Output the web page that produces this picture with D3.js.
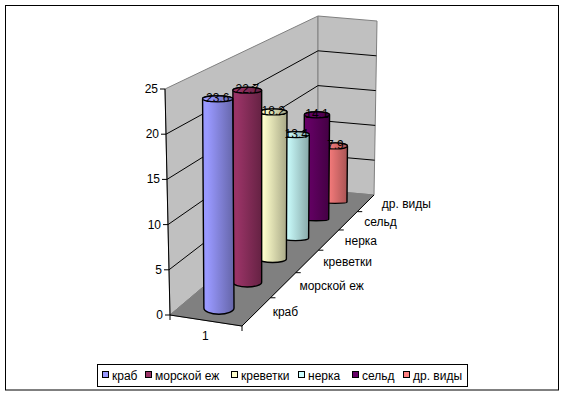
<!DOCTYPE html>
<html><head><meta charset="utf-8">
<script src="https://cdn.jsdelivr.net/npm/d3@7"></script>
<style>html,body{margin:0;padding:0;background:#fff}svg{display:block}text{font-family:"Liberation Sans",Arial,sans-serif;font-size:12px;fill:#000}</style>
</head><body><svg id="c" width="565" height="396"></svg>
<script>
const categories = ["краб","морской еж","креветки","нерка","сельд","др. виды"];
const values = [23.6,22.7,18.2,13.4,14.1,7.9];
const colors = ["#9999FF","#993366","#FFFFCC","#CCFFFF","#660066","#FF8080"];
const yTicks = [0,5,10,15,20,25];
const xLabels = ["1"];
const floorQuad = [[170,315],[242,326],[374,195],[318,190]];
const ceilQuad  = [[165,89],[243,99],[377,21],[318,16]];
const legendX = [102,145,231,298,352,403];

const svg = d3.select("#c");
function homography(q){
  const [[x0,y0],[x1,y1],[x2,y2],[x3,y3]] = q;
  const dx1=x1-x2,dx2=x3-x2,dx3=x0-x1+x2-x3,dy1=y1-y2,dy2=y3-y2,dy3=y0-y1+y2-y3;
  const det=dx1*dy2-dx2*dy1;
  const g=(dx3*dy2-dx2*dy3)/det,h=(dx1*dy3-dx3*dy1)/det;
  const a=x1-x0+g*x1,b=x3-x0+h*x3,d=y1-y0+g*y1,e=y3-y0+h*y3;
  return (u,v)=>{const w=g*u+h*v+1;return [(a*u+b*v+x0)/w,(d*u+e*v+y0)/w];};
}
const floorH=homography(floorQuad), ceilH=homography(ceilQuad);
const yScale=d3.scaleLinear().domain([0,25]).range([0,1]);
const depth=d3.scaleBand().domain(categories).range([0,1]);
const barDepth=d3.scaleBand().domain(categories).range([-0.01,0.98]);
const across=d3.scaleBand().domain(xLabels).range([0,1]);
function P(u,d,val){
  const f=floorH(u,d),c=ceilH(u,d),t=yScale(val);
  return [f[0]+(c[0]-f[0])*t,f[1]+(c[1]-f[1])*t];
}
const line=d3.line();
const defs=svg.append("defs");

svg.append("rect").attr("x",5.5).attr("y",5.5).attr("width",553).attr("height",384.5).attr("fill","#fff").attr("stroke","#000");

// walls
const wall=(pts,fill,stroke)=>svg.append("path").attr("d",line(pts)+"Z").attr("fill",fill).attr("stroke",stroke).attr("stroke-width",1);
wall([P(0,0,0),P(0,0,25),P(0,1,25),P(0,1,0)],"#C0C0C0","#808080");
wall([P(0,1,0),P(0,1,25),P(1,1,25),P(1,1,0)],"#C0C0C0","#808080");
wall([P(0,0,0),P(1,0,0),P(1,1,0),P(0,1,0)],"#808080","#808080");

// gridlines
yTicks.filter(v=>v>0&&v<25).forEach(v=>{
  svg.append("path").attr("d",line([P(0,0,v),P(0,1,v),P(1,1,v)])).attr("fill","none").attr("stroke","#000");
});

// axes
svg.append("path").attr("d",line([P(0,0,0),P(0,0,25)])).attr("stroke","#000").attr("fill","none");
yTicks.forEach(v=>{
  const p=P(0,0,v);
  svg.append("path").attr("d",line([p,[p[0]-5,p[1]]])).attr("stroke","#000");
  svg.append("text").attr("x",p[0]-7).attr("y",p[1]+4).attr("text-anchor","end").text(v);
});
svg.append("path").attr("d",line([P(0,0,0),P(1,0,0),P(1,1,0)])).attr("stroke","#000").attr("fill","none");
[0,1].forEach(u=>{const p=P(u,0,0);svg.append("path").attr("d",line([p,[p[0],p[1]+5]])).attr("stroke","#000");});
const xp=P(across("1")+across.bandwidth()/2,0,0);
svg.append("text").attr("x",xp[0]).attr("y",xp[1]+20).attr("text-anchor","middle").text(xLabels[0]);
depth.domain().forEach((c,i)=>{
  const p=P(1,depth(c),0);
  if(i>0) svg.append("path").attr("d",line([p,[p[0]+5,p[1]]])).attr("stroke","#000");
  const m=P(1,depth(c)+depth.bandwidth()/2,0);
  svg.append("text").attr("x",m[0]+16).attr("y",m[1]+5).text(c);
});

// cylinders, back to front
const order=d3.range(categories.length).reverse();
order.forEach(i=>{
  const d=barDepth(categories[i])+barDepth.bandwidth()/2;
  const b=P(.5,d,0),t=P(.5,d,values[i]);
  const full=P(.5,d,25);
  const r=(b[1]-full[1])*0.068;
  const ryB=Math.max(1,(b[1]-196)*0.055), ryT=3;
  const id="g"+i, c=d3.color(colors[i]);
  const dark=d3.rgb(c.r*.66,c.g*.66,c.b*.66);
  const g=defs.append("linearGradient").attr("id",id);
  g.append("stop").attr("offset","0").attr("stop-color",c.formatHex());
  g.append("stop").attr("offset","0.15").attr("stop-color",c.formatHex());
  g.append("stop").attr("offset","1").attr("stop-color",dark.formatHex());
  const x0=b[0]-r,x1=b[0]+r,tx=t[0],x0t=tx-r,x1t=tx+r;
  svg.append("path")
    .attr("d",`M${x0t},${t[1]}L${x0},${b[1]}A${r},${ryB} 0 0 0 ${x1},${b[1]}L${x1t},${t[1]}A${r},${ryT} 0 0 0 ${x0t},${t[1]}Z`)
    .attr("fill",`url(#${id})`).attr("stroke","#000").attr("stroke-width",1.4);
  svg.append("ellipse").attr("cx",tx).attr("cy",t[1]).attr("rx",r).attr("ry",ryT)
    .attr("fill",`url(#${id})`).attr("stroke","#000").attr("stroke-width",1.2);
});
// data labels on top
categories.forEach((c,i)=>{
  const d=barDepth(c)+barDepth.bandwidth()/2;
  const t=P(.5,d,values[i]);
  svg.append("text").attr("x",t[0]).attr("y",t[1]+3).attr("text-anchor","middle").text(values[i].toFixed(1));
});

// legend
svg.append("rect").attr("x",97.5).attr("y",364.5).attr("width",370).attr("height",22).attr("fill","#fff").attr("stroke","#000");
categories.forEach((c,i)=>{
  svg.append("rect").attr("x",legendX[i]+.5).attr("y",371.5).attr("width",6).attr("height",6).attr("fill",colors[i]).attr("stroke","#000");
  svg.append("text").attr("x",legendX[i]+10).attr("y",379.5).text(c);
});
</script></body></html>
